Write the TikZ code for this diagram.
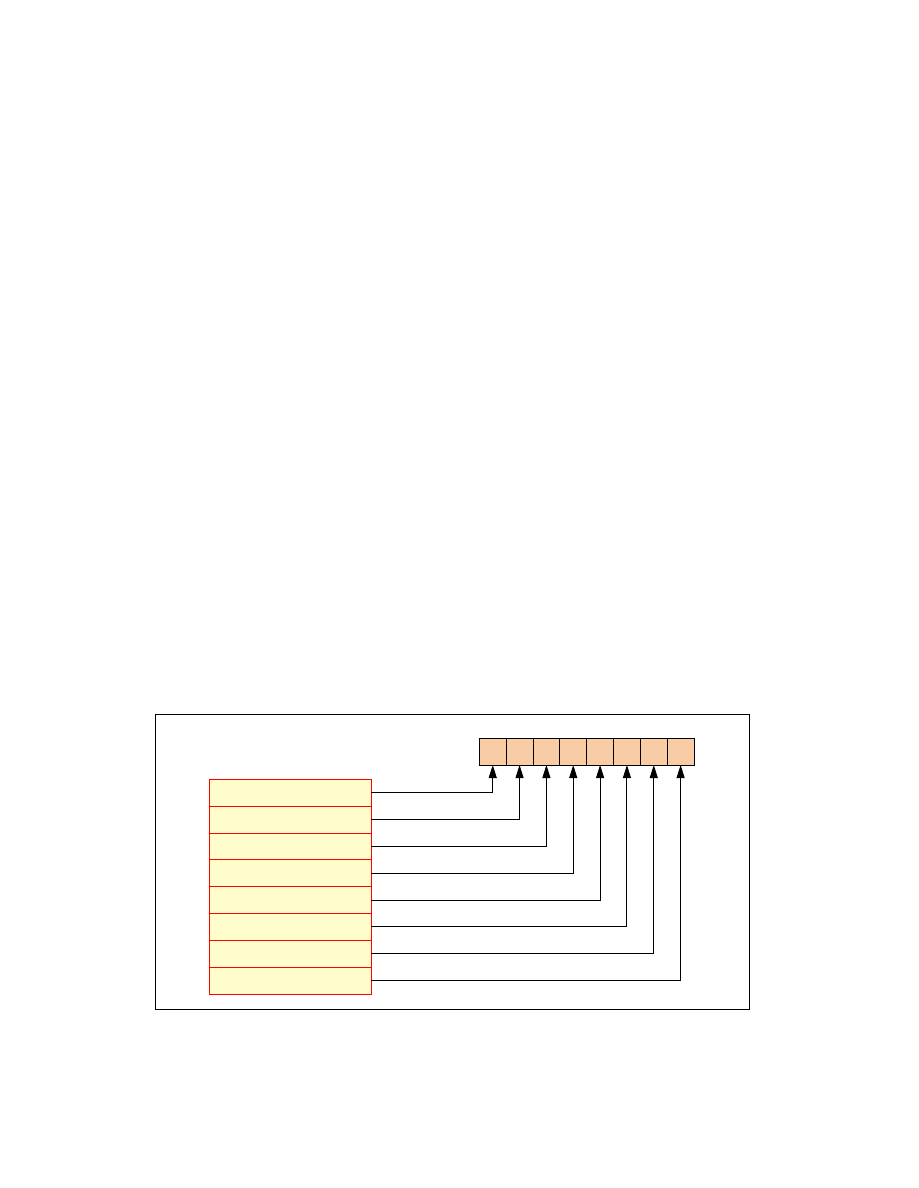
\documentclass[tikz,border=0pt]{standalone}
\usetikzlibrary{arrows.meta}
\definecolor{cellfill}{RGB}{250,204,166}
\definecolor{rowfill}{RGB}{255,253,204}
\begin{document}
\begin{tikzpicture}[x=1pt,y=-1pt,
  cellbox/.style={draw=black,fill=cellfill,line width=0.9pt,minimum width=26.84pt,minimum height=26.8pt,inner sep=0pt,outer sep=0pt},
  rowbox/.style={draw=red,fill=rowfill,line width=0.9pt,minimum width=162pt,minimum height=26.84pt,inner sep=0pt,outer sep=0pt},
  framebox/.style={draw=black,line width=0.9pt,minimum width=594pt,minimum height=295pt,inner sep=0pt,outer sep=0pt},
  link/.style={draw=black,line width=0.9pt,-{Triangle[length=13pt,width=8pt]}}]
\useasboundingbox (0,0) rectangle (918,1188);
\node[framebox] (frame) at (452,861.6) {};
\foreach \i in {1,...,8}{
  \node[cellbox] (c\i) at ({479.3+26.84*(\i-0.5)},751.6) {};
}
\foreach \i in {1,...,8}{
  \node[rowbox] (r\i) at (290,{779.3+26.84*(\i-0.5)}) {};
}
\foreach \i in {1,...,8}{
  \draw[link] (r\i.east) -| (c\i.south);
}
\end{tikzpicture}
\end{document}
